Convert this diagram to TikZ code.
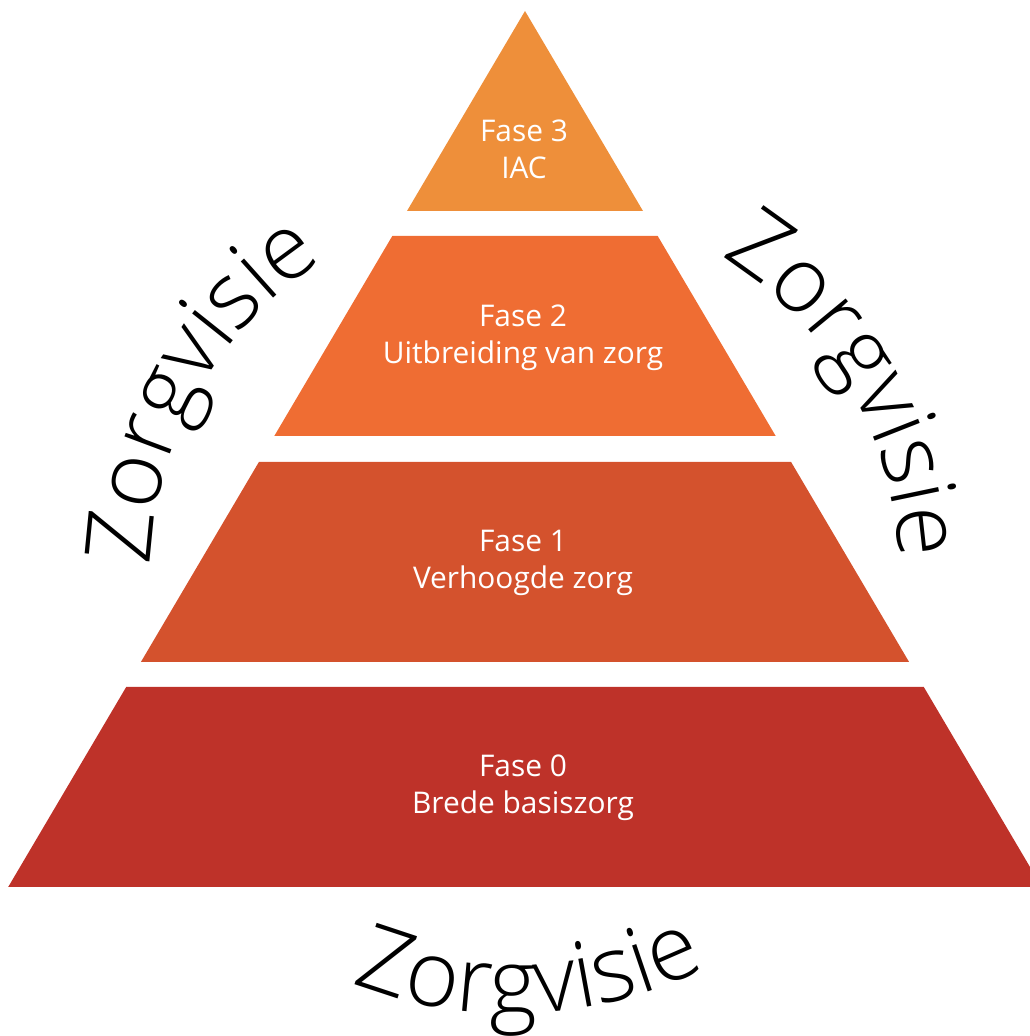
\documentclass[tikz,border=0pt]{standalone}
\usepackage{fontspec}
\setmainfont{Open Sans}
\newfontfamily\zorgfont{Open Sans Light}
\usepackage{tikz}
\usepackage{xcolor}
\usetikzlibrary{decorations.text}
\definecolor{fase_3}{HTML}{EE8F3A}
\definecolor{fase_2}{HTML}{EF6D33}
\definecolor{fase_1}{HTML}{D4522D}
\definecolor{fase_0}{HTML}{BE3229}
\tikzset{
    tier_label/.style={text=white,align=center,font=\fontsize{17}{21}\selectfont},
    zorg_text/.style={decorate,decoration={text along path,text align=center,
        text={|\zorgfont\fontsize{52}{62}\selectfont|Zorgvisie}}},
}
\begin{document}
\begin{tikzpicture}[x=0.02cm,y=0.02cm]
  \path[use as bounding box,clip] (0,0) rectangle (1030,1036);
  \coordinate (T) at (525.000,1025.000);
  \coordinate (B3l) at (407.000,825.000);
  \coordinate (B3r) at (643.000,825.000);
  \coordinate (T2l) at (392.300,800.000);
  \coordinate (T2r) at (657.700,800.000);
  \coordinate (B2l) at (274.300,600.000);
  \coordinate (B2r) at (775.700,600.000);
  \coordinate (T1l) at (258.900,574.000);
  \coordinate (T1r) at (791.100,574.000);
  \coordinate (B1l) at (140.900,374.000);
  \coordinate (B1r) at (909.100,374.000);
  \coordinate (T0l) at (126.200,349.000);
  \coordinate (T0r) at (923.800,349.000);
  \coordinate (B0l) at (8.200,149.000);
  \coordinate (B0r) at (1041.800,149.000);
  % Draw pyramid tiers
  \fill[fase_3] (T) -- (B3r) -- (B3l) -- cycle;
  \fill[fase_2] (T2l) -- (T2r) -- (B2r) -- (B2l) -- cycle;
  \fill[fase_1] (T1l) -- (T1r) -- (B1r) -- (B1l) -- cycle;
  \fill[fase_0] (T0l) -- (T0r) -- (B0r) -- (B0l) -- cycle;
  % Tier labels
  \node[tier_label] (f3) at (524,886.5) {Fase 3\\IAC};
  \node[tier_label] (f2) at (523,698.5) {Fase 2\\Uitbreiding van zorg};
  \node[tier_label] (f1) at (523,473.5) {Fase 1\\Verhoogde zorg};
  \node[tier_label] (f0) at (523,248.5) {Fase 0\\Brede basiszorg};
  % Curved labels round the pyramid
  \coordinate (O) at (525.000,460.000);
  \coordinate (Ob) at (512.000,452.000);
  \path[zorg_text] ([shift={(183:375)}]O) arc[start angle=183,end angle=118,radius=375];
  \path[zorg_text] ([shift={(63:375)}]O) arc[start angle=63,end angle=-2,radius=375];
  \path[zorg_text] ([shift={(244:430)}]Ob) arc[start angle=244,end angle=301,radius=430];
\end{tikzpicture}
\end{document}
